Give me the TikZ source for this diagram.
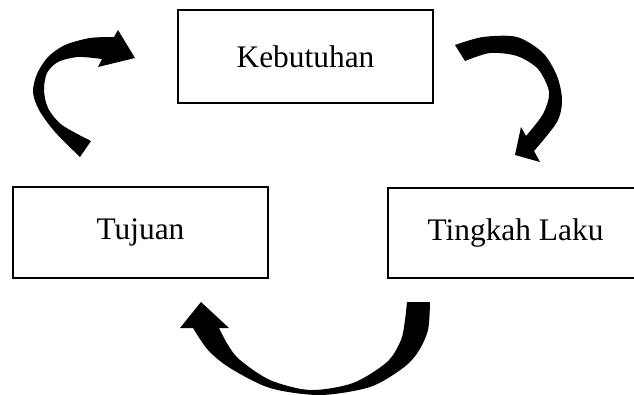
\documentclass[tikz,border=0pt]{standalone}
\usepackage{fontspec}
\setmainfont{Liberation Serif}
\begin{document}
\begin{tikzpicture}[x=1pt,y=-1pt,
  box/.style={draw=black, line width=1.7pt, minimum width=255pt, inner sep=0pt,
    font=\fontsize{31.4}{37}\selectfont},
  blockarrow/.style={fill=black}]
\useasboundingbox (0,0) rectangle (634,394);
\clip (0,0) rectangle (634,394);
\node[box, minimum height=93pt] (keb) at (305.5,56.5) {Kebutuhan};
\node[box, minimum height=91pt] (tuj) at (140.5,232.5) {Tujuan};
\node[box, minimum height=90pt] (tin) at (515.5,233) {Tingkah Laku};
% arrow from Tujuan to Kebutuhan
\fill[blockarrow] plot[smooth] coordinates {(80,157) (55,132) (39,110) (33,92) (37,74) (48,57) (65,45) (90,38) (114,37)}
  -- (118,30) -- (135,58) -- (98,67) -- (102,59)
  -- plot[smooth] coordinates {(102,59) (78,57) (58,62) (47,73) (44,90) (48,108) (62,125) (91,141)} -- cycle;
% arrow from Kebutuhan to Tingkah Laku
\fill[blockarrow] plot[smooth] coordinates {(455,45) (483,37) (517,37) (543,53) (557,76) (562,100) (557,122) (534,151)}
  -- (540,162) -- (515,155) -- (521,127) -- (526,136)
  -- plot[smooth] coordinates {(526,136) (543,114) (549,92) (538,69) (517,56) (490,53) (465,61)} -- cycle;
% arrow from Tingkah Laku to Tujuan
\fill[blockarrow] plot[smooth] coordinates {(430,302) (428,330) (418,352) (403,368) (370,387) (320,395) (270,388) (230,368) (208,350) (193,328)}
  -- (180,328) -- (201,302) -- (229,328) -- (219,328)
  -- plot[smooth] coordinates {(219,328) (228,345) (240,360) (270,380) (310,390) (353,383) (387,362) (401,340) (405,320) (407,302)} -- cycle;
\end{tikzpicture}
\end{document}
